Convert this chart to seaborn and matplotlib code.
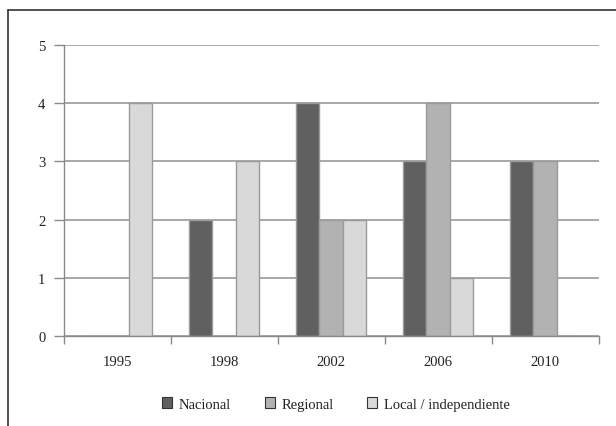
import matplotlib
matplotlib.use("Agg")
import matplotlib.pyplot as plt
import seaborn as sns
import pandas as pd
from matplotlib.lines import Line2D
from matplotlib.patches import Patch

years = ["1995", "1998", "2002", "2006", "2010"]
series = ["Nacional", "Regional", "Local / independiente"]
nacional = [0, 2, 4, 3, 3]
regional = [0, 0, 2, 4, 3]
local = [4, 3, 2, 1, 0]
colors = ["#606060", "#b2b2b2", "#d9d9d9"]

rows = []
for name, vals in zip(series, [nacional, regional, local]):
    for y, v in zip(years, vals):
        rows.append({"year": y, "serie": name, "value": v})
df = pd.DataFrame(rows)

sns.set_style("white")
plt.rcParams["font.family"] = ["Liberation Serif", "DejaVu Serif"]

fig = plt.figure(figsize=(6.16, 4.27), dpi=100)
ax = fig.add_axes([0.1031, 0.2108, 0.8685, 0.6815])

sns.barplot(data=df, x="year", y="value", hue="serie", order=years, hue_order=series,
            palette=colors, width=0.66, gap=0, edgecolor="#9a9a9a", linewidth=1.0,
            ax=ax, legend=False, saturation=1)

ax.set_ylim(0, 5)
ax.set_xlim(-0.5, 4.5)
ax.set_yticks(range(0, 6))
ax.yaxis.grid(True, color="#9a9a9a", linewidth=1.2)
ax.set_axisbelow(True)
ax.set_xlabel("")
ax.set_ylabel("")
for s in ["top", "right"]:
    ax.spines[s].set_visible(False)
for s in ["left", "bottom"]:
    ax.spines[s].set_color("#8a8a8a")
    ax.spines[s].set_linewidth(1.0)

ax.tick_params(axis="y", which="major", left=True, length=7, width=1, color="#8a8a8a",
               labelsize=10.5, pad=6, labelcolor="#222222")
ax.set_xticks(range(5))
ax.set_xticklabels(years)
ax.tick_params(axis="x", which="major", bottom=False, labelsize=10.5, pad=10, labelcolor="#222222")
ax.set_xticks([-0.5, 0.5, 1.5, 2.5, 3.5, 4.5], minor=True)
ax.tick_params(axis="x", which="minor", bottom=True, length=6, width=1, color="#8a8a8a")

handles = [Patch(facecolor=c, edgecolor="#333333", linewidth=0.8) for c in colors]
fig.legend(handles, series, loc="center", bbox_to_anchor=(336 / 616, 1 - 405 / 427), ncol=3,
           frameon=False, fontsize=10.5, handlelength=0.7, handleheight=0.7, handletextpad=0.45,
           columnspacing=2.3, labelcolor="#222222")

# outer frame lines (left and top)
fig.add_artist(Line2D([8 / 616, 8 / 616], [0, 1 - 11 / 427], transform=fig.transFigure,
                      color="#333333", linewidth=1.2))
fig.add_artist(Line2D([8 / 616, 1], [1 - 11 / 427, 1 - 11 / 427], transform=fig.transFigure,
                      color="#333333", linewidth=1.2))

fig.savefig("out.png", dpi=100)
